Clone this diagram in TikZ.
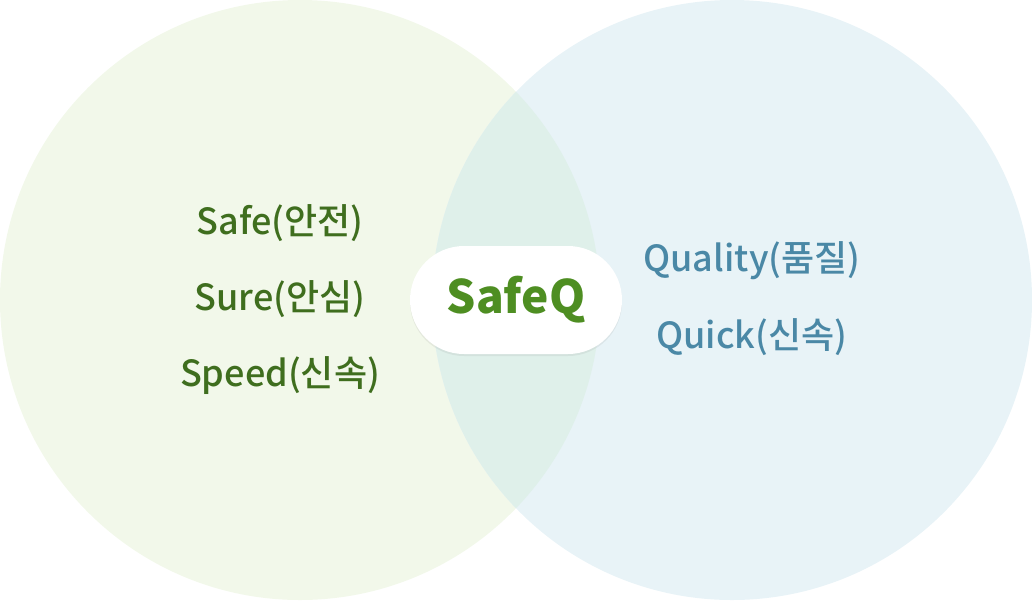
\documentclass[tikz,border=0pt]{standalone}
\usepackage{fontspec}
\setmainfont{Noto Sans CJK KR}
\newfontfamily\medfont{Noto Sans CJK KR Medium}
\newfontfamily\blackfont{Noto Sans CJK KR Black}
\usepackage{tikz}
\usetikzlibrary{positioning,shadows}
\definecolor{leftfill}{HTML}{F2F8EA}
\definecolor{rightfill}{HTML}{E8F3F7}
\definecolor{midfill}{HTML}{DFF0EA}
\definecolor{greentext}{HTML}{3F6E1E}
\definecolor{bluetext}{HTML}{4A88A6}
\definecolor{logogreen}{HTML}{4E8E22}
\tikzset{
  word/.style = {font=\medfont\fontsize{36}{38}\selectfont},
  safe/.style = {word, text=greentext},
  quick/.style = {word, text=bluetext},
  pill/.style = {fill=white, rounded corners=54pt, minimum width=212pt,
    minimum height=108pt, drop shadow={opacity=0.12, shadow xshift=0pt, shadow yshift=-2pt}}
}
\begin{document}
\begin{tikzpicture}[x=1pt,y=-1pt]
\useasboundingbox (0,0) rectangle (1032,600);

% circles
\fill[leftfill] (300,300) circle (300);
\fill[rightfill] (732,300) circle (300);
\begin{scope}
  \clip (300,300) circle (300);
  \fill[midfill] (732,300) circle (300);
\end{scope}

% left words
\node[safe] (safe) at (280,223) {Safe(안전)};
\node[safe] (sure) at (280,299) {Sure(안심)};
\node[safe] (speed) at (280,376) {Speed(신속)};

% right words
\node[quick] (quality) at (752,261) {Quality(품질)};
\node[quick] (quick) at (752,337) {Quick(신속)};

% center
\node[pill] (logo) at (516,300) {};
\node[text=logogreen, font=\blackfont\fontsize{46}{48}\selectfont] at (logo) {SafeQ};
\end{tikzpicture}
\end{document}
